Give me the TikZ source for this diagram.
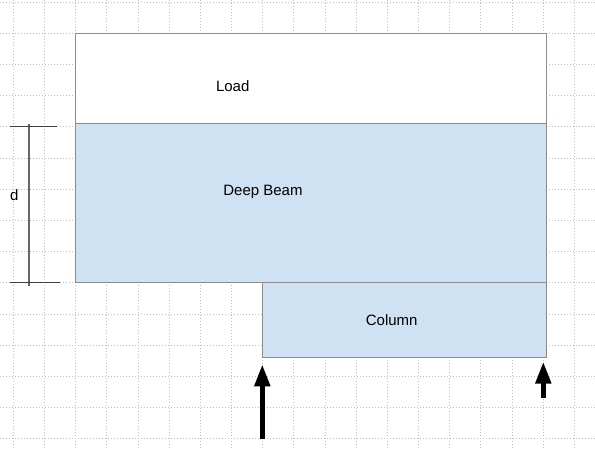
\documentclass[tikz,border=0pt]{standalone}
\usepackage{fontspec}
\setmainfont{Liberation Sans}
\usepackage{xcolor}
\usetikzlibrary{arrows.meta}

\definecolor{beamblue}{RGB}{207,226,243}
\definecolor{edgegray}{RGB}{140,140,140}
\definecolor{gridgray}{RGB}{190,190,190}

\begin{document}
\begin{tikzpicture}[x=1pt, y=-1pt,
  gridline/.style={gridgray, line width=0.8pt, dash pattern=on 1pt off 2pt},
  member/.style={draw=edgegray, line width=1pt},
  lbl/.style={font=\fontsize{15}{18}\selectfont, inner sep=0pt},
  force/.style={line width=5pt, -{Triangle[width=15pt, length=22pt]}},
  dimline/.style={black!75, line width=1pt}]
\useasboundingbox (0,0) rectangle (595,449);

% Background grid
\foreach \i in {0,...,18}
  \draw[gridline] ({13.3+31.17*\i},0) -- ({13.3+31.17*\i},449);
\foreach \j in {0,...,14}
  \draw[gridline] (0,{2+31.2*\j}) -- (595,{2+31.2*\j});

% Load, deep beam and column
\draw[member, fill=white] (75.7,33.3) rectangle (546.7,123.7);
\draw[member, fill=beamblue] (75.7,123.7) rectangle (546.7,283);
\draw[member, fill=beamblue] (262.3,283) rectangle (546.7,357.7);
\node[lbl] (load) at (232.7,85.7) {Load};
\node[lbl] (beam) at (263,191.7) {Deep Beam};
\node[lbl] (column) at (391.7,320) {Column};

% Depth of the beam
\coordinate (dtop) at (29,124);
\coordinate (dbot) at (29,286);
\coordinate (ttopl) at (10,127);
\coordinate (ttopr) at (57,127);
\coordinate (tbotl) at (10,283);
\coordinate (tbotr) at (60,283);
\draw[dimline, black!60, line width=1.3pt] (dtop) -- (dbot);
\draw[dimline] (ttopl) -- (ttopr);
\draw[dimline] (tbotl) -- (tbotr);
\node[lbl] (depth) at (14.3,195) {d};

% Reactions
\coordinate (leftfoot) at (262.3,439.3);
\coordinate (lefttip) at (262.3,364.3);
\coordinate (rightfoot) at (543.3,398.3);
\coordinate (righttip) at (543.3,361.7);
\draw[force] (leftfoot) -- (lefttip);
\draw[force] (rightfoot) -- (righttip);

\end{tikzpicture}
\end{document}
